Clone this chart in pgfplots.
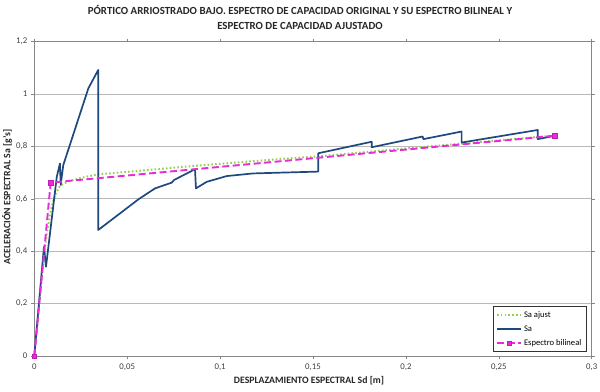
\documentclass[border=0pt]{standalone}
\usepackage{pgfplots}
\pgfplotsset{compat=1.18}
\usepackage{fontspec}
\setmainfont{Carlito}
\definecolor{sablue}{RGB}{31,73,125}
\definecolor{sagreen}{RGB}{146,208,80}
\definecolor{bimag}{RGB}{235,40,220}
\definecolor{axgray}{RGB}{134,134,134}
\definecolor{ticktext}{RGB}{64,64,64}
\begin{document}
\begin{tikzpicture}
\useasboundingbox (0,0) rectangle (600bp,392bp);
\begin{axis}[
  at={(34.3bp,36bp)}, anchor=south west,
  scale only axis, width=557.4bp, height=314.3bp,
  xmin=0, xmax=0.3, ymin=0, ymax=1.2,
  xtick={0,0.05,0.1,0.15,0.2,0.25,0.3},
  ytick={0,0.2,0.4,0.6,0.8,1,1.2},
  /pgf/number format/assume math mode=true,
  /pgf/number format/use comma,
  /pgf/number format/fixed,
  xticklabel style={font=\fontsize{8.8}{10}\selectfont, text=ticktext, yshift=-1bp},
  yticklabel style={font=\fontsize{8.8}{10}\selectfont, text=ticktext, xshift=-0.5bp},
  scaled x ticks=false,
  axis line style={axgray, line width=1bp},
  tick style={axgray, line width=0.6bp},
  major tick length=3bp,
  tick align=outside,
  ymajorgrids, grid style={gray!55, line width=0.8bp},
  legend style={at={(0.99,0.013)}, anchor=south east, draw=black!80, line width=0.6bp,
    font=\fontsize{8.6}{10}\selectfont, row sep=3bp, inner sep=2.5bp},
  legend cell align=left,
  legend image code/.code={\draw[mark repeat=2,mark phase=2,#1] plot coordinates {(0bp,0bp) (12bp,0bp) (24bp,0bp)};},
  clip=false,
]
\addplot[sagreen, line width=2bp, dash pattern=on 1.6bp off 2.2bp] coordinates {
(0,0) (0.004,0.30) (0.0065,0.46) (0.009,0.56) (0.0111,0.614) (0.0138,0.650)
(0.018,0.666) (0.0246,0.679) (0.0336,0.693) (0.05,0.703) (0.0865,0.726)
(0.1322,0.752) (0.1528,0.762) (0.19,0.786) (0.23,0.811) (0.2802,0.842)};
\addlegendentry{Sa ajust}
\addplot[sablue, line width=1.7bp, line join=round] coordinates {
(0,0) (0.0052,0.417) (0.0063,0.341) (0.0121,0.684) (0.0138,0.735) (0.0142,0.653)
(0.0156,0.729) (0.0291,1.022) (0.0344,1.092) (0.0344,0.481) (0.056,0.598)
(0.065,0.640) (0.074,0.662) (0.0752,0.672) (0.0865,0.713) (0.087,0.640)
(0.0928,0.665) (0.1036,0.687) (0.1177,0.697) (0.1322,0.700) (0.1528,0.704)
(0.1528,0.774) (0.1816,0.818) (0.1816,0.797) (0.209,0.838) (0.2094,0.828)
(0.230,0.857) (0.230,0.815) (0.271,0.863) (0.271,0.828) (0.2802,0.841)};
\addlegendentry{Sa}
\addplot[bimag, line width=1.9bp, dash pattern=on 7bp off 3.5bp,
  mark=square*, mark size=2.2bp, mark options={solid, fill=bimag, draw=bimag!80!black, line width=0.5bp}] coordinates {
(0,0) (0.0088,0.662) (0.2802,0.841)};
\addlegendentry{Espectro bilineal}
\end{axis}
\node[font=\bfseries\fontsize{10.9}{15}\selectfont, align=center, text=black!85] at (300bp,374.5bp)
  {PÓRTICO ARRIOSTRADO BAJO. ESPECTRO DE CAPACIDAD ORIGINAL Y SU ESPECTRO BILINEAL Y\\ESPECTRO DE CAPACIDAD AJUSTADO};
\node[font=\bfseries\fontsize{9.8}{11}\selectfont, text=black!85] at (309bp,11bp) {DESPLAZAMIENTO ESPECTRAL Sd [m]};
\node[font=\bfseries\fontsize{9.8}{11}\selectfont, text=black!85, rotate=90] at (7bp,195bp) {ACELERACIÓN ESPECTRAL Sa [g's]};
\end{tikzpicture}
\end{document}
